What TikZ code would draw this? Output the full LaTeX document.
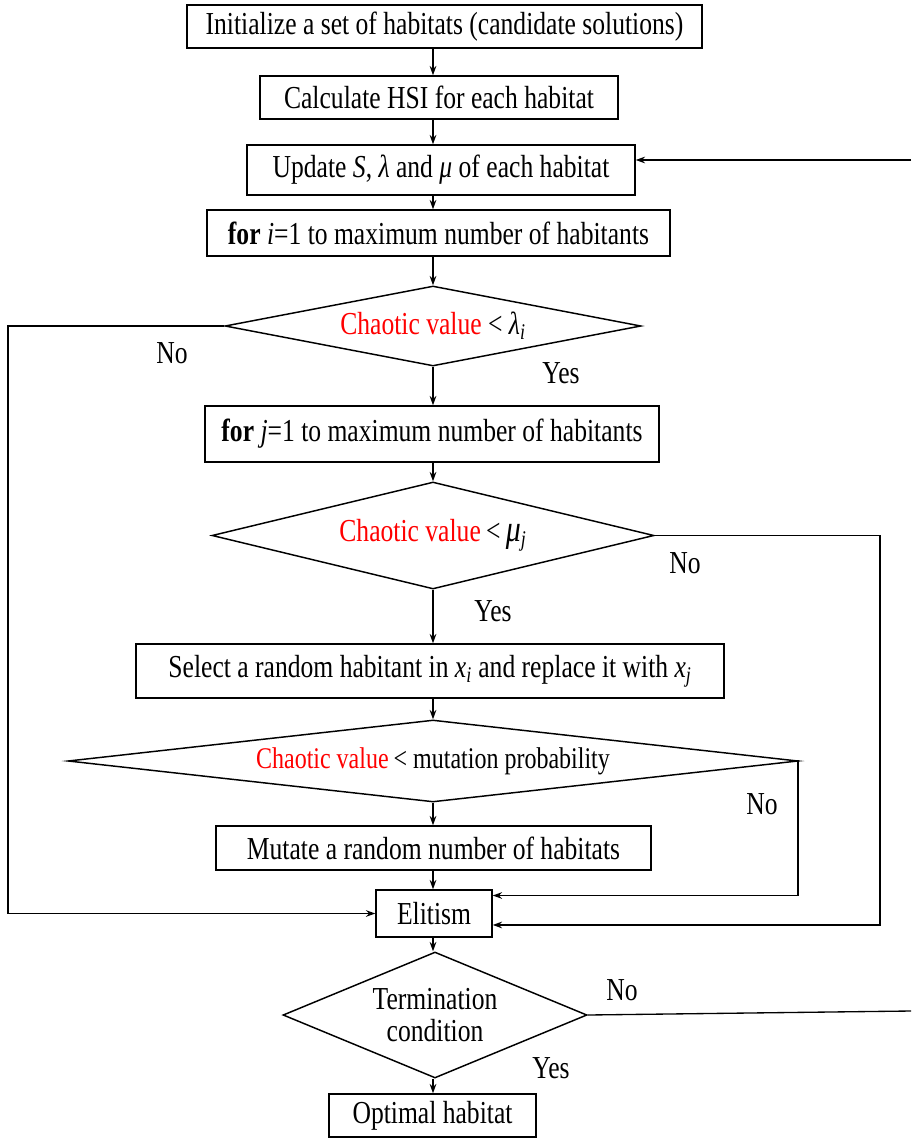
\documentclass[tikz,border=0pt]{standalone}
\usepackage{fontspec}
\setmainfont{Liberation Serif}[FakeStretch=0.8]
\usetikzlibrary{shapes.geometric,arrows.meta}
\definecolor{chred}{RGB}{255,0,0}
\begin{document}
\begin{tikzpicture}[x=0.75pt,y=-0.75pt,
  every node/.style={font=\fontsize{24}{27}\selectfont},
  box/.style={draw,line width=1.1pt,inner sep=0pt,align=center},
  dec/.style={draw,diamond,line width=1.1pt,inner sep=0pt,align=center},
  arr/.style={line width=1pt,-{Stealth[length=7pt,width=5pt]}},
  ln/.style={line width=1pt},
  lbl/.style={inner sep=0pt}]
\useasboundingbox (0,0) rectangle (911,1138);
\coordinate (col) at (433,0);
% boxes
\node[box,minimum width=386.25pt,minimum height=32.25pt] (init) at (444.5,26.5) {Initialize a set of habitats (candidate solutions)};
\node[box,minimum width=268.5pt,minimum height=32.25pt] (hsi) at (439,97.5) {Calculate HSI for each habitat};
\node[box,minimum width=291pt,minimum height=37.5pt] (upd) at (441,170) {Update \textit{S}, \textit{λ} and \textit{μ} of each habitat};
\node[box,minimum width=347.25pt,minimum height=34.5pt] (fori) at (438.5,233) {\textbf{for} \textit{i}=1 to maximum number of habitants};
\node[dec,aspect=5.2,minimum width=312pt,minimum height=60pt] (d1) at (433,326) {\textcolor{chred}{Chaotic value} <~\textit{λ\textsubscript{i}}};
\node[box,minimum width=340.5pt,minimum height=42pt] (forj) at (432,434) {\textbf{for} \textit{j}=1 to maximum number of habitants};
\node[dec,aspect=4.1,minimum width=331.5pt,minimum height=80.25pt] (d2) at (433,535.5) {\textcolor{chred}{Chaotic value}\,<\,{\fontsize{28}{30}\selectfont\textit{μ}}\textsubscript{\textit{j}}};
\node[box,minimum width=441pt,minimum height=40.5pt] (sel) at (430,671) {Select a random habitant in \textit{x\textsubscript{i}} and replace it with \textit{x\textsubscript{j}}};
\node[dec,aspect=8.9,minimum width=547.5pt,minimum height=61.5pt,font=\fontsize{22.5}{25}\selectfont] (d3) at (433,761) {\textcolor{chred}{Chaotic value}\,< mutation probability};
\node[box,minimum width=326.25pt,minimum height=33pt] (mut) at (433.5,848) {Mutate a random number of habitats};
\node[box,minimum width=87pt,minimum height=35.25pt] (elit) at (434,913.5) {Elitism};
\node[dec,aspect=2.4,minimum width=228pt,minimum height=94.5pt,font=\fontsize{24}{23.5}\selectfont] (d4) at (435,1015) {Termination\\condition};
\node[box,minimum width=155.25pt,minimum height=32.25pt] (opt) at (432.5,1115.5) {Optimal habitat};
% main flow
\draw[arr] (init.south -| col) -- (hsi.north -| col);
\draw[arr] (hsi.south -| col) -- (upd.north -| col);
\draw[arr] (upd.south -| col) -- (fori.north -| col);
\draw[arr] (fori.south -| col) -- (d1.north);
\draw[arr] (d1.south) -- (forj.north -| col);
\draw[arr] (forj.south -| col) -- (d2.north);
\draw[arr] (d2.south) -- (sel.north -| col);
\draw[arr] (sel.south -| col) -- (d3.north);
\draw[arr] (d3.south) -- (mut.north -| col);
\draw[arr] (mut.south -| col) -- (elit.north -| col);
\draw[arr] (elit.south -| col) -- (d4.north -| col);
\draw[arr] (d4.south -| col) -- (opt.north -| col);
% loops
\coordinate (l1) at (8,326);
\draw[arr] (d1.west) -- (l1) |- (elit.west);
\coordinate (r2) at (880,535.5);
\draw[arr] (d2.east) -- (r2) |- ([yshift=-8.6pt]elit.east);
\coordinate (r3) at (798,761);
\draw[arr] (d3.east) -- (r3) |- ([yshift=13.5pt]elit.east);
\coordinate (t4) at (911,1011);
\draw[ln] (d4.east) -- (t4);
\coordinate (r0) at (911,160);
\draw[arr] (r0) -- ([yshift=7.5pt]upd.east);
% labels
\node[lbl] (n1) at (172,353) {No};
\node[lbl] (y1) at (561,373) {Yes};
\node[lbl] (n2) at (685,563) {No};
\node[lbl] (y2) at (493,611) {Yes};
\node[lbl] (n3) at (762,804) {No};
\node[lbl] (n4) at (622,990) {No};
\node[lbl] (y4) at (551,1068) {Yes};
\end{tikzpicture}
\end{document}
